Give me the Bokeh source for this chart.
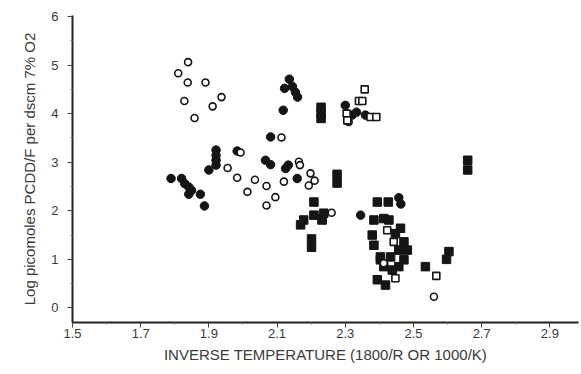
from bokeh.plotting import figure
from bokeh.models import FixedTicker, Range1d
from bokeh.embed import file_html
from bokeh.resources import INLINE

# Filled circles
fc_x = [1.789, 1.820, 1.829, 1.841, 1.849, 1.841, 1.875, 1.887, 1.900,
        1.921, 1.921, 1.921, 1.921, 1.983, 2.066, 2.081, 2.081, 2.125, 2.133,
        2.159, 2.136, 2.122, 2.145, 2.154, 2.160, 2.118, 2.300, 2.333, 2.320,
        2.359, 2.457, 2.463, 2.345]
fc_y = [2.665, 2.665, 2.56, 2.49, 2.42, 2.34, 2.34, 2.10, 2.84,
        3.25, 3.14, 3.04, 2.94, 3.23, 3.04, 2.95, 3.52, 2.87, 2.94,
        2.665, 4.71, 4.52, 4.56, 4.44, 4.34, 4.07, 4.17, 4.03, 3.97,
        3.97, 2.27, 2.14, 1.91]

# Open circles
oc_x = [1.839, 1.810, 1.838, 1.890, 1.828, 1.937, 1.911, 1.858,
        1.993, 2.113, 1.955, 1.983, 2.035, 2.069, 2.013, 2.095, 2.069,
        2.120, 2.164, 2.167, 2.198, 2.193, 2.210, 2.260, 2.310, 2.413, 2.560]
oc_y = [5.06, 4.83, 4.64, 4.64, 4.26, 4.34, 4.15, 3.91,
        3.20, 3.51, 2.88, 2.68, 2.64, 2.51, 2.39, 2.28, 2.11,
        2.60, 3.01, 2.94, 2.77, 2.52, 2.62, 1.96, 3.83, 0.92, 0.23]

# Filled squares
fs_x = [2.229, 2.229, 2.229, 2.276, 2.276, 2.208, 2.178, 2.208, 2.232, 2.237,
        2.169, 2.201, 2.201, 2.394, 2.426, 2.384, 2.413, 2.428, 2.379, 2.384,
        2.462, 2.447, 2.472, 2.482, 2.457, 2.403, 2.433, 2.472, 2.413, 2.457,
        2.403, 2.394, 2.418, 2.604, 2.597, 2.535, 2.659, 2.659, 2.438, 2.232]
fs_y = [4.13, 4.01, 3.90, 2.75, 2.57, 2.18, 1.81, 1.91, 1.84, 1.95,
        1.71, 1.42, 1.25, 2.18, 2.18, 1.81, 1.84, 1.81, 1.50, 1.29,
        1.64, 1.53, 1.36, 1.19, 1.19, 1.05, 1.05, 0.99, 0.85, 0.85,
        0.99, 0.58, 0.47, 1.16, 1.00, 0.85, 3.04, 2.84, 0.78, 1.81]

# Open squares
os_x = [2.357, 2.340, 2.350, 2.304, 2.306, 2.374, 2.391, 2.423, 2.442, 2.447, 2.567]
os_y = [4.50, 4.26, 4.26, 4.00, 3.86, 3.93, 3.93, 1.60, 1.36, 0.61, 0.66]

x_ticks = [1.5, 1.7, 1.9, 2.1, 2.3, 2.5, 2.7, 2.9]
x_minor = [1.6, 1.8, 2.0, 2.2, 2.4, 2.6, 2.8]
y_ticks = [0, 1, 2, 3, 4, 5, 6]
y_minor = [0.5, 1.5, 2.5, 3.5, 4.5, 5.5]

p = figure(width=581, height=374, output_backend="svg", toolbar_location=None,
           x_range=Range1d(1.5, 2.984), y_range=Range1d(-0.3, 6.02),
           min_border_left=72, min_border_right=3, min_border_top=15,
           min_border_bottom=52)
p.outline_line_color = None
p.grid.visible = False
p.background_fill_color = "white"

ink = "#151515"
p.scatter(fc_x, fc_y, marker="circle", size=8.5, fill_color=ink, line_color=ink)
p.scatter(fs_x, fs_y, marker="square", size=8.5, fill_color=ink, line_color=ink)
p.scatter(oc_x, oc_y, marker="circle", size=7, fill_color="white",
          line_color=ink, line_width=1.6)
p.scatter(os_x, os_y, marker="square", size=7, fill_color="white",
          line_color=ink, line_width=1.6)

p.xaxis.ticker = FixedTicker(ticks=x_ticks, minor_ticks=x_minor)
p.yaxis.ticker = FixedTicker(ticks=y_ticks, minor_ticks=y_minor)
p.xaxis.major_label_overrides = {t: f"{t:.1f}" for t in x_ticks}

for ax in (p.xaxis, p.yaxis):
    ax.axis_line_width = 2
    ax.axis_line_color = "#222222"
    ax.major_tick_line_color = "#444444"
    ax.minor_tick_line_color = "#777777"
    ax.major_tick_in = 0
    ax.major_tick_out = 5
    ax.minor_tick_in = 0
    ax.minor_tick_out = 2
    ax.major_label_text_font = "Liberation Sans"
    ax.major_label_text_color = "#3a3a3a"
    ax.axis_label_text_font = "Liberation Sans"
    ax.axis_label_text_font_style = "normal"
    ax.axis_label_text_color = "#3a3a3a"

p.xaxis.major_label_text_font_size = "13px"
p.yaxis.major_label_text_font_size = "13px"
p.xaxis.major_label_standoff = 1
p.yaxis.major_label_standoff = 9
p.xaxis.axis_label = "INVERSE TEMPERATURE (1800/R OR 1000/K)"
p.yaxis.axis_label = "Log picomoles PCDD/F per dscm 7% O2"
p.xaxis.axis_label_text_font_size = "15px"
p.yaxis.axis_label_text_font_size = "15px"
p.xaxis.axis_label_standoff = 5
p.yaxis.axis_label_standoff = 10

open("out.html", "w").write(file_html(p, INLINE))
